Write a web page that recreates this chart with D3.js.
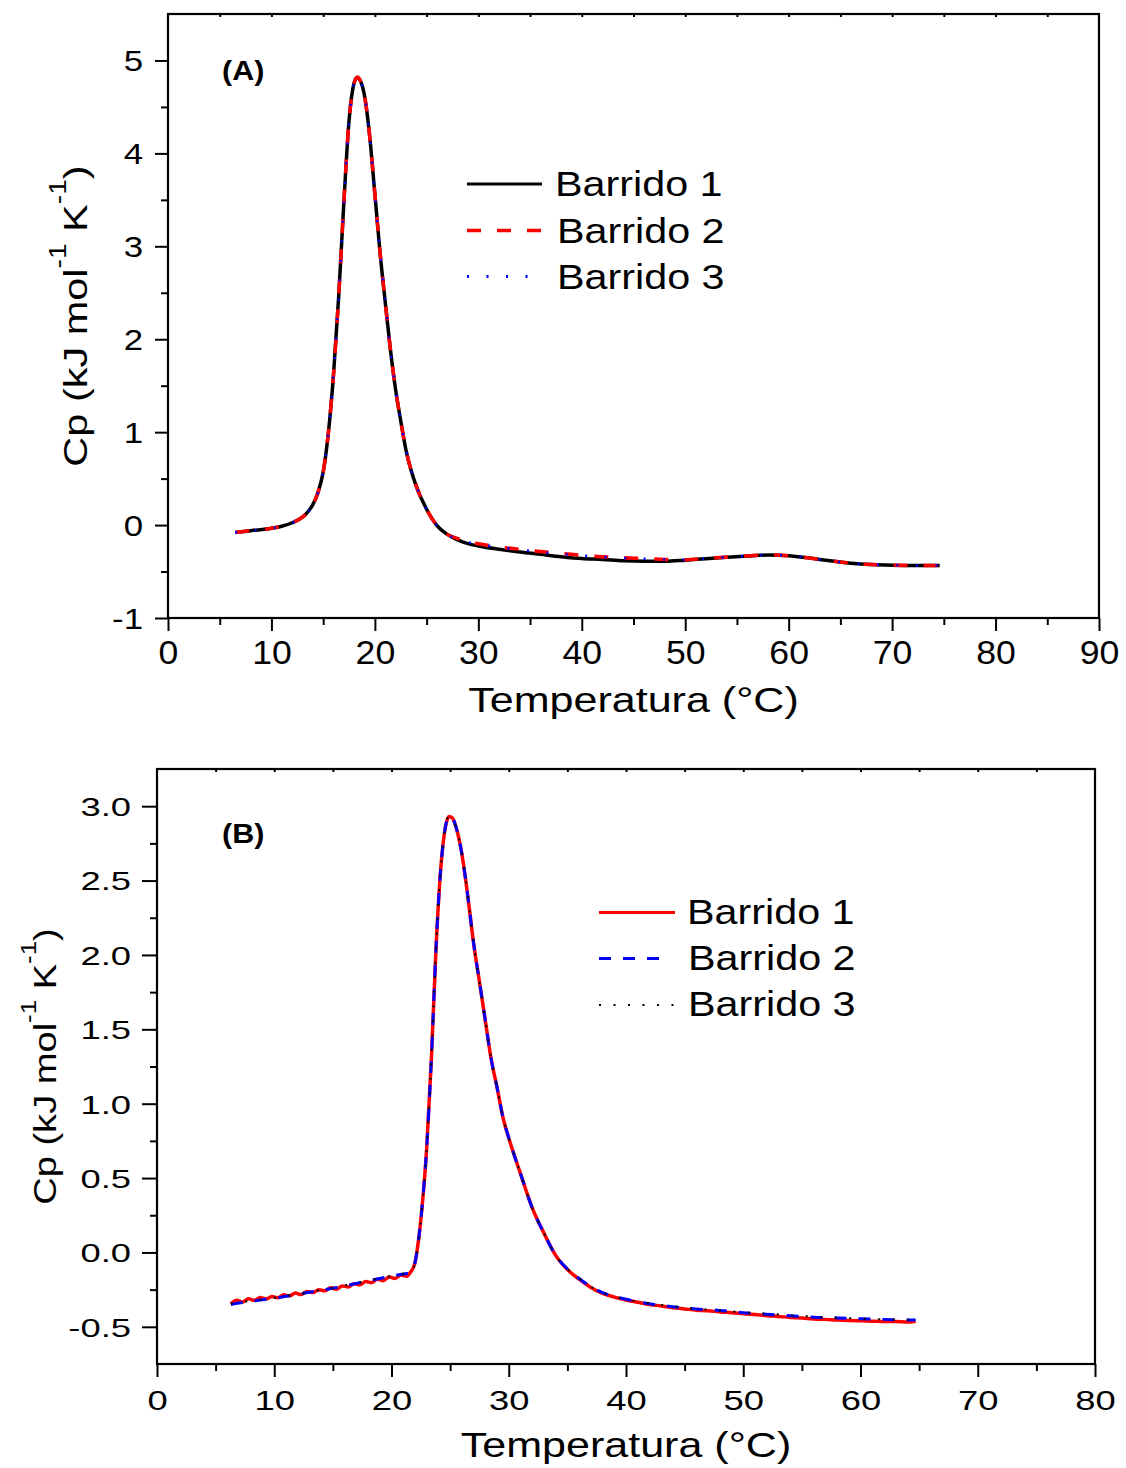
<!DOCTYPE html>
<html>
<head>
<meta charset="utf-8">
<script src="https://cdn.jsdelivr.net/npm/d3@7"></script>
<style>
  html, body { margin: 0; padding: 0; background: #fff; }
  svg { display: block; font-family: "Liberation Sans", Arial, sans-serif; }
</style>
</head>
<body>
<svg id="chart" width="1126" height="1468"></svg>
<script>
const seriesNames = ['Barrido 1', 'Barrido 2', 'Barrido 3'];

// (A)
const tempA = [6.5, 8, 10, 11, 12, 13,
  13.5, 14, 14.5, 15, 15.5, 16, 16.5, 17, 17.5, 18,
  18.3, 18.6, 19, 19.5, 20, 20.5, 21, 21.5, 22, 22.5, 23, 23.5, 24,
  25, 26, 27, 28, 29, 30,
  32, 34, 36, 38, 40, 42, 44, 46, 48, 50, 52, 54, 56, 58, 60, 62, 64, 66, 68, 70, 72,
  74.6];
const cpA1 = [-0.08, -0.06, -0.035, -0.012, 0.025, 0.085,
  0.14, 0.22, 0.35, 0.57, 0.99, 1.62, 2.46, 3.47, 4.35, 4.76,
  4.82, 4.78, 4.62, 4.18, 3.56, 2.93, 2.40, 1.89, 1.46, 1.12, 0.81, 0.59, 0.42,
  0.17, -0.005, -0.10, -0.16, -0.20, -0.225,
  -0.26, -0.29, -0.315, -0.34, -0.36, -0.37, -0.385, -0.39, -0.39, -0.378, -0.362, -0.347, -0.333, -0.322, -0.33, -0.355, -0.385, -0.41, -0.425, -0.432, -0.435,
  -0.435];
const cpA2 = [-0.08, -0.06, -0.035, -0.012, 0.025, 0.085,
  0.14, 0.22, 0.35, 0.57, 0.99, 1.62, 2.46, 3.47, 4.35, 4.76,
  4.82, 4.78, 4.62, 4.18, 3.56, 2.93, 2.40, 1.89, 1.46, 1.12, 0.81, 0.59, 0.42,
  0.17, -0.005, -0.10, -0.145, -0.18, -0.20,
  -0.235, -0.26, -0.285, -0.305, -0.325, -0.34, -0.352, -0.36, -0.37, -0.372, -0.358, -0.345, -0.332, -0.322, -0.33, -0.355, -0.385, -0.41, -0.425, -0.432, -0.435,
  -0.435];
const cpA3 = [-0.08, -0.06, -0.035, -0.012, 0.025, 0.085,
  0.14, 0.22, 0.35, 0.57, 0.99, 1.62, 2.46, 3.47, 4.35, 4.76,
  4.82, 4.78, 4.62, 4.18, 3.56, 2.93, 2.40, 1.89, 1.46, 1.12, 0.81, 0.59, 0.42,
  0.17, -0.005, -0.10, -0.15, -0.185, -0.205,
  -0.238, -0.265, -0.29, -0.31, -0.328, -0.342, -0.355, -0.362, -0.37, -0.372, -0.358, -0.345, -0.332, -0.322, -0.33, -0.355, -0.385, -0.41, -0.425, -0.432, -0.435,
  -0.435];
const xTicksA = [0, 10, 20, 30, 40, 50, 60, 70, 80, 90];
const yTicksA = [-1, 0, 1, 2, 3, 4, 5];

// (B)
const tempB1 = [6.3, 6.8, 7.3, 7.8, 8.3, 8.8, 9.3, 9.8, 10.3, 10.8, 11.3, 11.8, 12.3, 12.8, 13.3, 13.8,
  14.3, 14.8, 15.3, 15.8, 16.3, 16.8, 17.3, 17.8, 18.3, 18.8, 19.3, 19.8, 20.3, 20.8, 21.3,
  21.6, 22, 22.3, 22.6, 23, 23.4, 23.8, 24.2, 24.6, 24.9, 25.2, 25.5, 26, 26.5, 27, 27.5, 28, 28.5,
  29, 29.5, 30, 31, 32, 33, 34, 35, 36, 37, 38, 39,
  40, 41, 42, 43, 44, 45, 46, 47, 48, 49, 50, 51, 52, 53, 54, 55, 56, 57, 58, 59, 60, 61, 62, 63, 64, 64.7];
const cpB1 = [-0.345, -0.322, -0.333, -0.312, -0.322, -0.303, -0.313, -0.296, -0.305, -0.285, -0.292, -0.273, -0.283, -0.262, -0.27, -0.25,
  -0.258, -0.238, -0.247, -0.225, -0.232, -0.21, -0.218, -0.196, -0.203, -0.18, -0.19, -0.165, -0.175, -0.152, -0.16,
  -0.135, -0.07, 0.08, 0.30, 0.70, 1.30, 2.05, 2.58, 2.86, 2.93, 2.92, 2.86, 2.68, 2.40, 2.08, 1.82, 1.56, 1.30,
  1.11, 0.91, 0.77, 0.53, 0.30, 0.13, -0.02, -0.115, -0.18, -0.235, -0.275, -0.30,
  -0.32, -0.335, -0.35, -0.36, -0.372, -0.38, -0.388, -0.392, -0.40, -0.405, -0.412, -0.418, -0.425, -0.43, -0.437, -0.44, -0.447, -0.45, -0.455, -0.458, -0.46, -0.462, -0.465, -0.465, -0.468, -0.462];
const tempB2 = [6.3, 7, 8, 9, 10, 11, 12, 13, 14, 15, 16, 17, 18, 19, 20, 21,
  21.6, 22, 22.3, 22.6, 23, 23.4, 23.8, 24.2, 24.6, 24.9, 25.2, 25.5, 26, 26.5, 27, 27.5, 28, 28.5,
  29, 29.5, 30, 31, 32, 33, 34, 35, 36, 37, 38, 39,
  40, 42, 44, 46, 48, 50, 52, 54, 56, 58, 60, 62, 64.7];
const cpB2 = [-0.35, -0.34, -0.33, -0.318, -0.308, -0.295, -0.282, -0.268, -0.255, -0.24, -0.225, -0.208, -0.192, -0.175, -0.16, -0.145,
  -0.135, -0.07, 0.08, 0.30, 0.70, 1.30, 2.05, 2.58, 2.86, 2.93, 2.92, 2.86, 2.68, 2.40, 2.08, 1.82, 1.56, 1.30,
  1.11, 0.91, 0.77, 0.53, 0.30, 0.13, -0.02, -0.11, -0.175, -0.23, -0.27, -0.295,
  -0.315, -0.345, -0.365, -0.38, -0.39, -0.405, -0.415, -0.425, -0.435, -0.44, -0.445, -0.45, -0.455];
const cpB3 = [-0.345, -0.335, -0.326, -0.315, -0.305, -0.293, -0.28, -0.266, -0.252, -0.238, -0.222, -0.205, -0.188, -0.172, -0.158, -0.143,
  -0.135, -0.07, 0.08, 0.30, 0.70, 1.30, 2.05, 2.58, 2.86, 2.93, 2.92, 2.86, 2.68, 2.40, 2.08, 1.82, 1.56, 1.30,
  1.11, 0.91, 0.77, 0.53, 0.30, 0.13, -0.02, -0.11, -0.175, -0.23, -0.27, -0.295,
  -0.315, -0.342, -0.362, -0.378, -0.39, -0.402, -0.412, -0.422, -0.432, -0.44, -0.445, -0.45, -0.452];
const xTicksB = [0, 10, 20, 30, 40, 50, 60, 70, 80];
const yTicksB = [-0.5, 0, 0.5, 1, 1.5, 2, 2.5, 3];

const svg = d3.select('#chart');

// plain hyphen instead of the unicode minus d3.format gives
const hyphen = f => d => f(d).replace('\u2212', '-');

const drawPanel = (cfg) => {
    const x = d3.scaleLinear().domain(cfg.xDomain).range([cfg.left, cfg.right]);
    const y = d3.scaleLinear().domain(cfg.yDomain).range([cfg.bottom, cfg.top]);
    const g = svg.append('g');

    const clean = a => a.attr('font-family', null).call(s => s.select('.domain').remove())
        .call(s => s.selectAll('line').attr('stroke-width', 2));

    // minor ticks
    g.append('g').attr('transform', `translate(${cfg.left},0)`)
        .call(d3.axisLeft(y).tickValues(cfg.yMinor).tickSize(7).tickFormat(''))
        .call(clean);
    g.append('g').attr('transform', `translate(0,${cfg.bottom})`)
        .call(d3.axisBottom(x).tickValues(cfg.xMinor).tickSize(7).tickFormat(''))
        .call(clean);
    g.append('g').attr('transform', `translate(0,${cfg.top})`)
        .call(d3.axisBottom(x).tickValues(cfg.xTop).tickSize(3).tickFormat(''))
        .call(clean);

    // major ticks + labels
    g.append('g').attr('transform', `translate(${cfg.left},0)`)
        .call(d3.axisLeft(y).tickValues(cfg.yTicks).tickSize(cfg.yMajor).tickFormat(hyphen(cfg.yFormat)))
        .call(clean)
        .call(a => a.selectAll('text')
            .attr('x', 0).attr('dy', '0.36em').attr('fill', '#000')
            .attr('font-size', cfg.yLabel.size)
            .attr('transform', `translate(${-cfg.yLabel.gap},0) scale(${cfg.yLabel.sx},1)`));
    g.append('g').attr('transform', `translate(0,${cfg.bottom})`)
        .call(d3.axisBottom(x).tickValues(cfg.xTicks).tickSize(13).tickFormat(d3.format('d')))
        .call(clean)
        .call(a => a.selectAll('text')
            .attr('y', 0).attr('dy', null).attr('fill', '#000')
            .attr('font-size', cfg.xLabel.size)
            .attr('transform', `translate(0,${cfg.xLabel.gap}) scale(${cfg.xLabel.sx},1)`));

    // curves
    const line = d3.line()
        .x(d => x(d[0]))
        .y(d => y(d[1]))
        .curve(d3.curveMonotoneX);

    cfg.series.forEach(s => {
        g.append('path')
            .datum(d3.zip(s.t, s.cp))
            .attr('fill', 'none')
            .attr('stroke', s.color)
            .attr('stroke-width', s.width)
            .attr('stroke-dasharray', s.dash)
            .attr('stroke-linejoin', 'round')
            .attr('d', line);
    });

    // frame
    g.append('rect')
        .attr('x', cfg.left).attr('y', cfg.top)
        .attr('width', cfg.right - cfg.left).attr('height', cfg.bottom - cfg.top)
        .attr('fill', 'none').attr('stroke', '#000').attr('stroke-width', 2.2);

    // legend
    cfg.series.forEach((s, i) => {
        const ly = cfg.legend.y[i];
        g.append('line')
            .attr('x1', cfg.legend.x1).attr('x2', cfg.legend.x2[i])
            .attr('y1', ly).attr('y2', ly)
            .attr('stroke', s.color)
            .attr('stroke-width', s.legWidth)
            .attr('stroke-dasharray', s.dash);
        g.append('text')
            .attr('transform', `translate(${cfg.legend.tx[i]},${ly + cfg.legend.dy}) scale(1.18,1)`)
            .attr('font-size', 35)
            .text(seriesNames[i]);
    });

    // panel letter
    g.append('text')
        .attr('transform', `translate(${cfg.tag.x},${cfg.tag.y}) scale(1.13,1)`)
        .attr('font-size', 27).attr('font-weight', 'bold')
        .text(cfg.tag.text);

    // axis titles
    g.append('text')
        .attr('transform', `translate(${(cfg.left + cfg.right) / 2},${cfg.xTitleY}) scale(1.23,1)`)
        .attr('text-anchor', 'middle')
        .attr('font-size', 35)
        .text('Temperatura (°C)');

    const yt = g.append('text')
        .attr('transform', `translate(${cfg.yTitle.x},${(cfg.top + cfg.bottom) / 2}) rotate(-90) scale(${cfg.yTitle.sx},1)`)
        .attr('text-anchor', 'middle')
        .attr('font-size', cfg.yTitle.size);
    const sup = cfg.yTitle.size * 0.68;
    const shift = cfg.yTitle.size * 0.62;
    yt.append('tspan').text('Cp (kJ mol');
    yt.append('tspan').attr('font-size', sup).attr('dy', -shift).text('-1');
    yt.append('tspan').attr('dy', shift).text(' K');
    yt.append('tspan').attr('font-size', sup).attr('dy', -shift).text('-1');
    yt.append('tspan').attr('dy', shift).text(')');
};

drawPanel({
    left: 168, right: 1099, top: 14, bottom: 618,
    xDomain: [0, 90], yDomain: [-1, 5.5],
    xTicks: xTicksA, xMinor: d3.range(5, 90, 10), xTop: d3.range(5, 90, 5),
    yTicks: yTicksA, yMinor: [-0.5, 0.5, 1.5, 2.5, 3.5, 4.5], yMajor: 13,
    yFormat: d3.format('d'),
    yLabel: { size: 29, sx: 1.2, gap: 25 },
    xLabel: { size: 33, sx: 1.08, gap: 46 },
    xTitleY: 712,
    yTitle: { x: 87, size: 34, sx: 1.22 },
    tag: { x: 222, y: 80, text: '(A)' },
    legend: { x1: 467, x2: [542, 542, 542], y: [184, 230.5, 276.5], tx: [555, 557, 557], dy: 12 },
    series: [
        { t: tempA, cp: cpA1, color: '#000000', width: 3.5, dash: null, legWidth: 3 },
        { t: tempA, cp: cpA2, color: '#ff0000', width: 3.5, dash: '14,16', legWidth: 3.5 },
        { t: tempA, cp: cpA3, color: '#0000ff', width: 2.5, dash: '2,17.5', legWidth: 3 }
    ]
});

drawPanel({
    left: 157, right: 1095, top: 769, bottom: 1364,
    xDomain: [0, 80], yDomain: [-0.75, 3.25],
    xTicks: xTicksB, xMinor: d3.range(5, 80, 10), xTop: d3.range(5, 80, 5),
    yTicks: yTicksB, yMinor: [-0.25, 0.25, 0.75, 1.25, 1.75, 2.25, 2.75], yMajor: 15,
    yFormat: d3.format('.1f'),
    yLabel: { size: 26, sx: 1.4, gap: 26 },
    xLabel: { size: 28, sx: 1.3, gap: 46 },
    xTitleY: 1457,
    yTitle: { x: 56, size: 32, sx: 1.19 },
    tag: { x: 222, y: 843, text: '(B)' },
    legend: { x1: 599, x2: [675, 660, 675], y: [912.5, 958.5, 1005], tx: [687, 688, 688], dy: 11 },
    series: [
        { t: tempB1, cp: cpB1, color: '#ff0000', width: 3.5, dash: null, legWidth: 3 },
        { t: tempB2, cp: cpB2, color: '#0000ff', width: 3, dash: '12,12', legWidth: 3 },
        { t: tempB2, cp: cpB3, color: '#000000', width: 2, dash: '2,12.5', legWidth: 2 }
    ]
});
</script>
</body>
</html>
